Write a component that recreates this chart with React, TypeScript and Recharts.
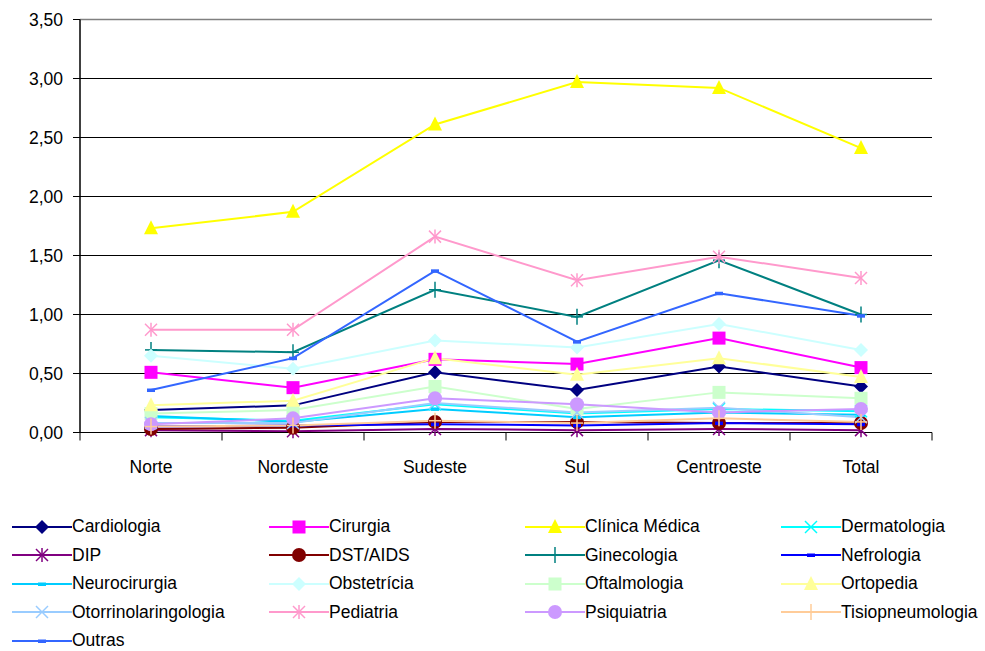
import React from 'react';
import { LineChart, Line, XAxis, YAxis, CartesianGrid, Legend, ReferenceLine } from 'recharts';

const regioes = ['Norte', 'Nordeste', 'Sudeste', 'Sul', 'Centroeste', 'Total'];

const cardiologia = [0.19, 0.23, 0.51, 0.36, 0.56, 0.39];
const cirurgia = [0.51, 0.38, 0.62, 0.58, 0.8, 0.55];
const clinicaMedica = [1.73, 1.87, 2.61, 2.97, 2.92, 2.41];
const dermatologia = [0.13, 0.1, 0.24, 0.16, 0.2, 0.18];
const dip = [0.02, 0.01, 0.03, 0.02, 0.03, 0.02];
const dstAids = [0.03, 0.04, 0.09, 0.09, 0.08, 0.08];
const ginecologia = [0.7, 0.68, 1.21, 0.98, 1.46, 1.0];
const nefrologia = [0.05, 0.06, 0.07, 0.06, 0.08, 0.07];
const neurocirurgia = [0.14, 0.09, 0.2, 0.13, 0.17, 0.15];
const obstetricia = [0.65, 0.54, 0.78, 0.72, 0.92, 0.7];
const oftalmologia = [0.16, 0.19, 0.39, 0.2, 0.34, 0.29];
const ortopedia = [0.23, 0.27, 0.63, 0.49, 0.63, 0.47];
const otorrino = [0.08, 0.08, 0.25, 0.17, 0.21, 0.13];
const pediatria = [0.87, 0.87, 1.66, 1.29, 1.49, 1.31];
const psiquiatria = [0.07, 0.12, 0.29, 0.24, 0.17, 0.2];
const tisiopneumologia = [0.05, 0.06, 0.1, 0.08, 0.12, 0.09];
const outras = [0.36, 0.63, 1.37, 0.77, 1.18, 0.99];

const yTicks = [0, 0.5, 1, 1.5, 2, 2.5, 3, 3.5];

// nome, valores, cor, marcador
const series: [string, number[], string, string][] = [
  ['Cardiologia', cardiologia, '#000080', 'diamond'],
  ['Cirurgia', cirurgia, '#FF00FF', 'square'],
  ['Clínica Médica', clinicaMedica, '#FFFF00', 'triangle'],
  ['Dermatologia', dermatologia, '#00FFFF', 'x'],
  ['DIP', dip, '#800080', 'star'],
  ['DST/AIDS', dstAids, '#800000', 'circle'],
  ['Ginecologia', ginecologia, '#008080', 'plus'],
  ['Nefrologia', nefrologia, '#0000FF', 'dash'],
  ['Neurocirurgia', neurocirurgia, '#00CCFF', 'dash'],
  ['Obstetrícia', obstetricia, '#CCFFFF', 'diamond'],
  ['Oftalmologia', oftalmologia, '#CCFFCC', 'square'],
  ['Ortopedia', ortopedia, '#FFFF99', 'triangle'],
  ['Otorrinolaringologia', otorrino, '#99CCFF', 'x'],
  ['Pediatria', pediatria, '#FF99CC', 'star'],
  ['Psiquiatria', psiquiatria, '#CC99FF', 'circle'],
  ['Tisiopneumologia', tisiopneumologia, '#FFCC99', 'plus'],
  ['Outras', outras, '#3366FF', 'dash'],
];

const data = regioes.map((r, i) => {
  const row: any = { regiao: r };
  series.forEach(([name, vals]) => {
    row[name] = vals[i];
  });
  return row;
});

const shapeOf: Record<string, string> = {};
const orderOf: Record<string, number> = {};
series.forEach(([name, , , shape], i) => {
  shapeOf[name] = shape;
  orderOf[name] = i;
});

const FONT = '"Liberation Sans", Arial, sans-serif';
const FS = 17.5;
const PLOT_W = 852;

function Marker({ shape, cx, cy, color }: { shape: string; cx: number; cy: number; color: string }) {
  switch (shape) {
    case 'diamond':
      return <polygon points={`${cx},${cy - 7} ${cx + 7},${cy} ${cx},${cy + 7} ${cx - 7},${cy}`} fill={color} />;
    case 'square':
      return <rect x={cx - 6.5} y={cy - 6.5} width={13} height={13} fill={color} />;
    case 'triangle':
      return <polygon points={`${cx},${cy - 8} ${cx + 7},${cy + 6} ${cx - 7},${cy + 6}`} fill={color} />;
    case 'circle':
      return <circle cx={cx} cy={cy} r={7} fill={color} />;
    case 'x':
      return (
        <g stroke={color} strokeWidth={1.5}>
          <line x1={cx - 6} y1={cy - 6} x2={cx + 6} y2={cy + 6} />
          <line x1={cx - 6} y1={cy + 6} x2={cx + 6} y2={cy - 6} />
        </g>
      );
    case 'star':
      return (
        <g stroke={color} strokeWidth={1.5}>
          <line x1={cx - 6} y1={cy - 6} x2={cx + 6} y2={cy + 6} />
          <line x1={cx - 6} y1={cy + 6} x2={cx + 6} y2={cy - 6} />
          <line x1={cx} y1={cy - 7} x2={cx} y2={cy + 7} />
        </g>
      );
    case 'plus':
      return (
        <g stroke={color} strokeWidth={1.5}>
          <line x1={cx} y1={cy - 8} x2={cx} y2={cy + 8} />
          <line x1={cx - 6} y1={cy} x2={cx + 6} y2={cy} />
        </g>
      );
    case 'dash':
      return <rect x={cx - 4} y={cy - 1.5} width={8} height={3.5} fill={color} />;
    default:
      return null;
  }
}

const CategoryTick = (props: any) => {
  const { x, y, payload, index } = props;
  const step = PLOT_W / regioes.length;
  return (
    <g>
      <line x1={x - step / 2} y1={y} x2={x - step / 2} y2={y + 8} stroke="#000" />
      {index === regioes.length - 1 && <line x1={x + step / 2} y1={y} x2={x + step / 2} y2={y + 8} stroke="#000" />}
      <text x={x} y={y + 40} textAnchor="middle" fontSize={FS} fill="#000" fontFamily={FONT}>
        {payload.value}
      </text>
    </g>
  );
};

const LegendGrid = (props: any) => {
  const payload = [...(props.payload || [])].sort((a: any, b: any) => orderOf[a.value] - orderOf[b.value]);
  return (
    <div style={{ width: 985, height: 141, paddingTop: 3, boxSizing: 'border-box', display: 'grid', gridTemplateColumns: '257px 256px 256px 216px', gridAutoRows: '28.5px', paddingLeft: 12, fontFamily: FONT, fontSize: FS, color: '#000' }}>
      {payload.map((item: any) => (
        <div key={item.value} style={{ height: 28.5, display: 'flex', alignItems: 'center', whiteSpace: 'nowrap' }}>
          <svg width={60} height={20}>
            <line x1={0} y1={10} x2={60} y2={10} stroke={item.color} strokeWidth={2} />
            <Marker shape={shapeOf[item.value]} cx={30} cy={10} color={item.color} />
          </svg>
          <span>{item.value}</span>
        </div>
      ))}
    </div>
  );
};

export default function App() {
  return (
    <div style={{ position: 'absolute', left: 0, top: 0, background: '#fff' }}>
      <LineChart width={985} height={651} data={data} margin={{ top: 19.5, right: 53, left: 0, bottom: 0.5 }}>
        <CartesianGrid vertical={false} stroke="#000" strokeWidth={1} />
        <ReferenceLine y={3.5} stroke="#808080" strokeWidth={1.5} />
        <XAxis
          dataKey="regiao"
          scale="band"
          height={77}
          axisLine={{ stroke: '#000' }}
          tickLine={false}
          tickSize={0}
          tickMargin={0}
          tick={<CategoryTick />}
          interval={0}
        />
        <YAxis
          domain={[0, 3.5]}
          ticks={yTicks}
          width={80}
          axisLine={{ stroke: '#000', strokeWidth: 1.5 }}
          tickLine={{ stroke: '#000' }}
          tickSize={7}
          tickMargin={10}
          tick={{ fontSize: FS, fill: '#000', fontFamily: FONT }}
          tickFormatter={(v: number) => v.toFixed(2).replace('.', ',')}
        />
        <Legend verticalAlign="bottom" align="left" content={<LegendGrid />} wrapperStyle={{ left: 0, width: 985 }} />
        {series.map(([name, , color, shape]) => (
          <Line
            key={name}
            dataKey={name}
            name={name}
            stroke={color}
            strokeWidth={2}
            type="linear"
            isAnimationActive={false}
            dot={(p: any) => <Marker key={`${name}-${p.index}`} shape={shape} cx={p.cx} cy={p.cy} color={color} />}
            activeDot={false}
          />
        ))}
      </LineChart>
    </div>
  );
}
